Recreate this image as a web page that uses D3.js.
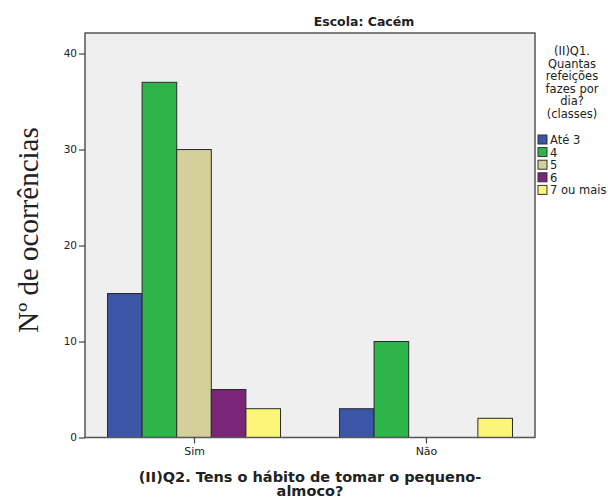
<!DOCTYPE html>
<html>
<head>
<meta charset="utf-8">
<script src="https://cdn.jsdelivr.net/npm/d3@7"></script>
<style>
  body { margin: 0; background: #fff; }
  text { font-family: "DejaVu Sans", sans-serif; fill: #222; }
</style>
</head>
<body>
<div id="vis"></div>
<script>
//-- data
var groups = ["Sim", "Não"];
var classes = ["Até 3", "4", "5", "6", "7 ou mais"];
var colors = ["#3b56a6", "#2db54a", "#d4cf9b", "#7b2579", "#fbf677"];
var sim = [15, 37, 30, 5, 3];
var nao = [3, 10, 0, 0, 2];
var yTicks = [0, 10, 20, 30, 40];
var legendTitle = ["(II)Q1.", "Quantas", "refeições", "fazes por", "dia?", "(classes)"];

var width = 608, height = 499;
var plotL = 85, plotR = 535, plotT = 33, plotB = 437.5;

var svg = d3.select("#vis").append("svg")
  .attr("width", width).attr("height", height);

var x = d3.scalePoint().domain(groups).range([plotL, plotR]).padding(0.47);
var xi = d3.scaleBand().domain(classes).range([-86.5, 86.5]);
var y = d3.scaleLinear().domain([0, 42.14]).range([plotB, plotT]);

// plot background
svg.append("rect")
  .attr("x", plotL).attr("y", plotT)
  .attr("width", plotR - plotL).attr("height", plotB - plotT)
  .attr("fill", "#efefef");

var rows = [sim, nao];
groups.forEach(function (g, gi) {
  var cells = rows[gi]
    .map(function (v, i) { return { v: v, c: i }; })
    .filter(function (d) { return d.v > 0; });
  svg.append("g")
    .selectAll("rect")
    .data(cells)
    .enter()
    .append("rect")
    .attr("x", function (d) { return x(g) + xi(classes[d.c]); })
    .attr("y", function (d) { return y(d.v); })
    .attr("width", xi.bandwidth())
    .attr("height", function (d) { return y(0) - y(d.v); })
    .attr("fill", function (d) { return colors[d.c]; })
    .attr("stroke", "#2a2a2a")
    .attr("stroke-width", 1);
});

// frame
svg.append("rect")
  .attr("x", plotL).attr("y", plotT)
  .attr("width", plotR - plotL).attr("height", plotB - plotT)
  .attr("fill", "none").attr("stroke", "#555").attr("stroke-width", 1.5);

// y axis
var yAxis = d3.axisLeft(y).tickValues(yTicks).tickSize(6).tickPadding(2);
var ya = svg.append("g").attr("transform", "translate(" + plotL + ",0)").call(yAxis);
ya.select(".domain").remove();
ya.selectAll("line").attr("stroke", "#444").attr("stroke-width", 1.2);
ya.selectAll("text").style("font-family", "DejaVu Sans").style("font-size", "10.5px").attr("fill", "#333");

// x axis
var xAxis = d3.axisBottom(x).tickSize(6).tickPadding(4);
var xa = svg.append("g").attr("transform", "translate(0," + plotB + ")").call(xAxis);
xa.select(".domain").remove();
xa.selectAll("line").attr("stroke", "#444").attr("stroke-width", 1.2);
xa.selectAll("text").style("font-family", "DejaVu Sans").style("font-size", "11px").attr("fill", "#333");

// titles
svg.append("text")
  .attr("x", 364).attr("y", 26)
  .attr("text-anchor", "middle")
  .style("font-size", "12.5px").style("font-weight", "bold")
  .text("Escola: Cacém");

svg.append("text")
  .attr("x", 310).attr("y", 482)
  .attr("text-anchor", "middle")
  .style("font-size", "14.5px").style("font-weight", "bold")
  .text("(II)Q2. Tens o hábito de tomar o pequeno-");
svg.append("text")
  .attr("x", 310).attr("y", 496)
  .attr("text-anchor", "middle")
  .style("font-size", "14.5px").style("font-weight", "bold")
  .text("almoco?");

svg.append("text")
  .attr("transform", "translate(38,230) rotate(-90)")
  .attr("text-anchor", "middle")
  .style("font-family", "'Liberation Serif', 'Times New Roman', serif")
  .style("font-size", "29px")
  .text("Nº de ocorrências");

// legend
svg.append("g")
  .selectAll("text")
  .data(legendTitle)
  .enter()
  .append("text")
  .attr("x", 572)
  .attr("y", function (d, i) { return 55 + i * 12.5; })
  .attr("text-anchor", "middle")
  .style("font-size", "11.5px")
  .text(function (d) { return d; });

var lg = svg.append("g").selectAll("g")
  .data(classes)
  .enter()
  .append("g")
  .attr("transform", function (d, i) { return "translate(538," + (135 + i * 12.6) + ")"; });
lg.append("rect")
  .attr("width", 9).attr("height", 9)
  .attr("fill", function (d, i) { return colors[i]; })
  .attr("stroke", "#333").attr("stroke-width", 1);
lg.append("text")
  .attr("x", 12).attr("y", 9)
  .style("font-size", "11.5px")
  .text(function (d) { return d; });
</script>
</body>
</html>
